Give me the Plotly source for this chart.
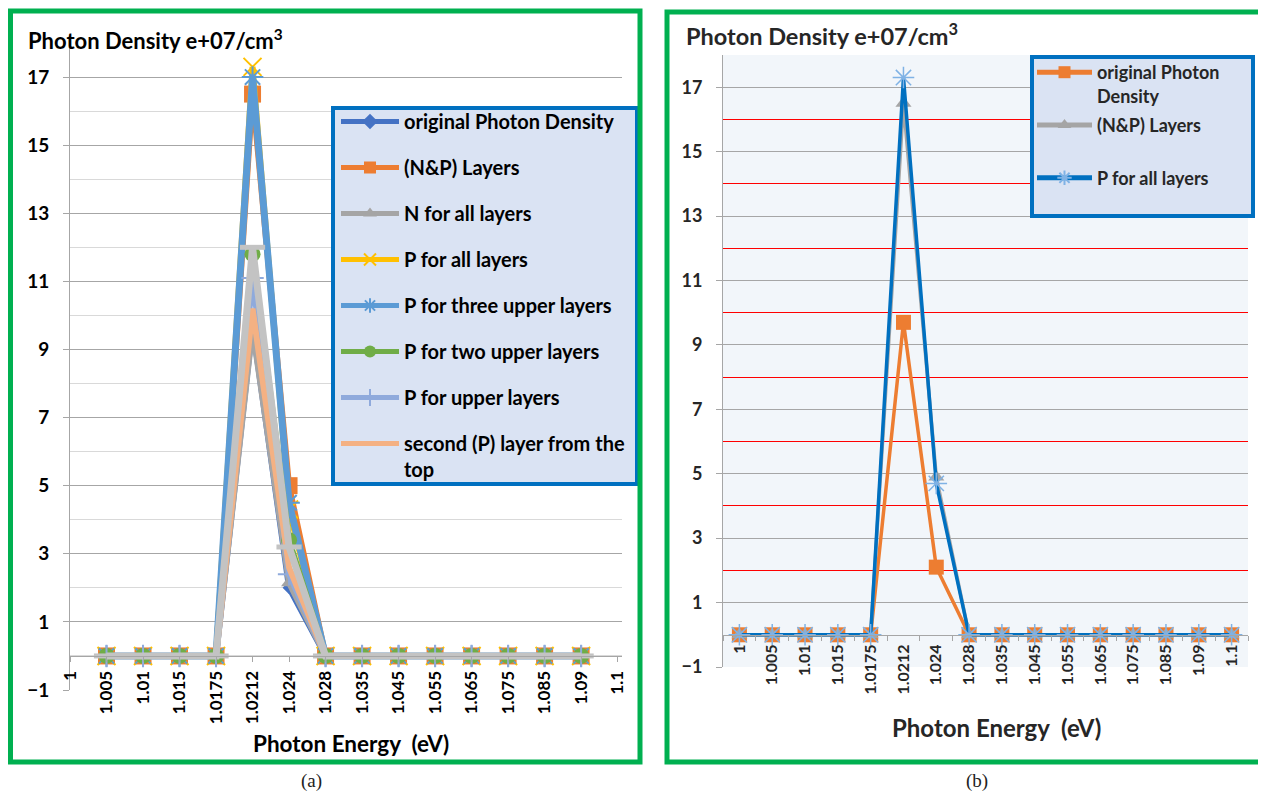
import plotly.graph_objects as go

W, H = 1266, 796
OFF = 8  # the page body margin shifts the figure by this many pixels

# ---------------- data ----------------
energy_labels = ["1", "1.005", "1.01", "1.015", "1.0175", "1.0212", "1.024", "1.028",
                 "1.035", "1.045", "1.055", "1.065", "1.075", "1.085", "1.09", "1.1"]

# panel (a)  (no data at "1" and "1.1")
a_original = [None, 0, 0, 0, 0, 9.7, 2.0, 0, 0, 0, 0, 0, 0, 0, 0, None]
a_np_layers = [None, 0, 0, 0, 0, 16.5, 5.0, 0, 0, 0, 0, 0, 0, 0, 0, None]
a_n_all = [None, 0, 0, 0, 0, 9.6, 2.15, 0, 0, 0, 0, 0, 0, 0, 0, None]
a_p_all = [None, 0, 0, 0, 0, 17.3, 4.3, 0, 0, 0, 0, 0, 0, 0, 0, None]
a_p_three = [None, 0, 0, 0, 0, 17.0, 4.5, 0, 0, 0, 0, 0, 0, 0, 0, None]
a_p_two = [None, 0, 0, 0, 0, 11.8, 3.4, 0, 0, 0, 0, 0, 0, 0, 0, None]
a_p_upper = [None, 0, 0, 0, 0, 11.1, 2.4, 0, 0, 0, 0, 0, 0, 0, 0, None]
a_second_p = [None, 0, 0, 0, 0, 10.2, 2.6, 0, 0, 0, 0, 0, 0, 0, 0, None]
a_extra = [None, 0, 0, 0, 0, 12.0, 3.2, 0, 0, 0, 0, 0, 0, 0, 0, None]

# panel (b)
b_original = [0, 0, 0, 0, 0, 9.7, 2.1, 0, 0, 0, 0, 0, 0, 0, 0, 0]
b_np_layers = [0, 0, 0, 0, 0, 16.5, 4.9, 0, 0, 0, 0, 0, 0, 0, 0, 0]
b_p_all = [0, 0, 0, 0, 0, 17.3, 4.7, 0, 0, 0, 0, 0, 0, 0, 0, 0]

y_major = [-1, 1, 3, 5, 7, 9, 11, 13, 15, 17]
y_minor_a = [0, 2, 4, 6, 8, 10, 12, 14, 16, 18]
y_minor_b = [2, 4, 6, 8, 10, 12, 14, 16, 18]

FONT = "Lato"


def px(x):
    return (x - OFF) / W


def py(y):
    return 1 - (y - OFF) / H


fig = go.Figure()

# ---------------- panel (a) traces ----------------
a_series = [
    ("original Photon Density", a_original, "#4472C4", 6,
     dict(symbol="diamond", size=10, color="#4472C4"), True),
    ("(N&P) Layers", a_np_layers, "#ED7D31", 6,
     dict(symbol="square", size=17, color="#ED7D31"), True),
    ("N for all layers", a_n_all, "#A5A5A5", 6,
     dict(symbol="triangle-up", size=14, color="#A5A5A5"), True),
    ("P for all layers", a_p_all, "#FFC000", 6,
     dict(symbol="x-thin-open", size=18, color="#FFC000", line=dict(color="#FFC000", width=2)), True),
    ("P for three upper layers", a_p_three, "#5B9BD5", 7,
     dict(symbol="asterisk-open", size=18, color="#5B9BD5", line=dict(color="#5B9BD5", width=2)), True),
    ("P for two upper layers", a_p_two, "#70AD47", 6,
     dict(symbol="circle", size=16, color="#70AD47"), True),
    ("P for upper layers", a_p_upper, "#8FAADC", 6,
     dict(symbol="cross-thin-open", size=16, color="#8FAADC", line=dict(color="#8FAADC", width=2)), True),
    ("second (P) layer from the<br>top", a_second_p, "#F4B183", 6, None, True),
    ("series 9", a_extra, "#C3C3C3", 7,
     dict(symbol="line-ew-open", size=18, color="#C3C3C3", line=dict(color="#C3C3C3", width=5)), False),
]

for i, (name, vals, col, lw, mk, show) in enumerate(a_series):
    fig.add_trace(go.Scatter(
        x=energy_labels, y=vals, name=name,
        mode="lines+markers" if mk else "lines",
        line=dict(color=col, width=lw),
        marker=mk if mk else None,
        xaxis="x", yaxis="y", legend="legend", showlegend=show,
        legendgroup="a%d" % i,
    ))

# ---------------- panel (b) traces ----------------
b_series = [
    ("original Photon<br>Density", b_original, "#ED7D31",
     dict(symbol="square", size=15, color="#ED7D31")),
    ("(N&P) Layers<br>\u00a0", b_np_layers, "#A5A5A5",
     dict(symbol="triangle-up", size=14, color="#A5A5A5")),
    ("P for all layers", b_p_all, "#0070C0",
     dict(symbol="asterisk-open", size=18, color="#7FB2E5", line=dict(color="#7FB2E5", width=1.5))),
]
for i, (name, vals, col, mk) in enumerate(b_series):
    fig.add_trace(go.Scatter(
        x=energy_labels, y=vals, name=name, mode="lines+markers",
        line=dict(color=col, width=3.5), marker=mk,
        xaxis="x2", yaxis="y2", legend="legend2", legendgroup="b%d" % i,
    ))

tick_font_a = dict(family=FONT, size=19, color="black", weight="bold")
tick_font_b = dict(family=FONT, size=18, color="#262626", weight="bold")
xtick_font_a = dict(family=FONT, size=17, color="black", weight="bold")
xtick_font_b = dict(family=FONT, size=16, color="#262626", weight="bold")

fig.update_layout(
    template="none",
    width=W, height=H,
    margin=dict(l=0, r=0, t=0, b=0, pad=0, autoexpand=False),
    font=dict(family=FONT, color="black"),
    paper_bgcolor="white", plot_bgcolor="rgba(0,0,0,0)",
    xaxis=dict(
        domain=[px(70), px(622)], type="category",
        categoryorder="array", categoryarray=energy_labels,
        range=[0, 15.12], anchor="free", position=py(656), automargin=False,
        showline=True, linecolor="#A6A6A6", ticks="outside", ticklen=5, tickcolor="#A6A6A6",
        showgrid=False, zeroline=False, tickangle=-90, tickfont=xtick_font_a, ticklabelstandoff=2,
    ),
    yaxis=dict(
        domain=[py(690), py(43)], range=[-1, 18], anchor="x", automargin=False,
        tickvals=y_major, showgrid=True, gridcolor="#A6A6A6", gridwidth=1,
        minor=dict(tickvals=y_minor_a, showgrid=True, gridcolor="#D9D9D9", gridwidth=1, ticks=""),
        showline=True, linecolor="#A6A6A6", ticks="outside", ticklen=6, tickcolor="#A6A6A6",
        zeroline=False, tickfont=tick_font_a, ticklabelstandoff=10,
    ),
    xaxis2=dict(
        domain=[px(723), px(1248)], type="category",
        categoryorder="array", categoryarray=energy_labels,
        range=[-0.5, 15.5], anchor="free", position=py(635), tickson="boundaries",
        automargin=False,
        showline=True, linecolor="#A6A6A6", ticks="outside", ticklen=5, tickcolor="#A6A6A6",
        showgrid=False, zeroline=False, tickangle=-90, tickfont=xtick_font_b, ticklabelstandoff=2,
    ),
    yaxis2=dict(
        domain=[py(667), py(55)], range=[-1, 18], anchor="x2", automargin=False,
        tickvals=y_major, showgrid=True, gridcolor="#A6A6A6", gridwidth=1,
        minor=dict(tickvals=y_minor_b, showgrid=True, gridcolor="#FF0000", gridwidth=1, ticks=""),
        showline=True, linecolor="#A6A6A6", ticks="outside", ticklen=6, tickcolor="#A6A6A6",
        zeroline=False, tickfont=tick_font_b, ticklabelstandoff=10,
    ),
    legend=dict(
        x=px(336), y=py(102), xanchor="left", yanchor="top",
        bgcolor="rgba(0,0,0,0)", borderwidth=0,
        font=dict(family=FONT, size=20, color="black", weight="bold"),
        itemwidth=58, itemsizing="constant", traceorder="grouped",
        tracegroupgap=17, valign="top",
    ),
    legend2=dict(
        x=px(1032), y=py(54), xanchor="left", yanchor="top",
        bgcolor="rgba(0,0,0,0)", borderwidth=0,
        font=dict(family=FONT, size=18, color="#262626", weight="bold"),
        itemwidth=55, itemsizing="constant", traceorder="grouped",
        tracegroupgap=3, valign="top",
    ),
    showlegend=True,
)

shapes = [
    # panel (b) plot background
    dict(type="rect", xref="x2 domain", yref="y2 domain", x0=0, x1=1, y0=0, y1=1,
         fillcolor="#F2F6FA", line=dict(width=0), layer="below"),
    # legend boxes
    dict(type="rect", xref="paper", yref="paper", x0=px(333), x1=px(637), y0=py(484), y1=py(108),
         fillcolor="#DAE3F3", line=dict(color="#0070C0", width=4), layer="above"),
    dict(type="rect", xref="paper", yref="paper", x0=px(1032), x1=px(1253), y0=py(216), y1=py(57),
         fillcolor="#DAE3F3", line=dict(color="#0070C0", width=4), layer="above"),
    # green frames
    dict(type="rect", xref="paper", yref="paper", x0=px(10.5), x1=px(640), y0=py(762), y1=py(11),
         line=dict(color="#00B050", width=5), layer="above"),
    dict(type="rect", xref="paper", yref="paper", x0=px(667), x1=px(1420), y0=py(762), y1=py(12),
         line=dict(color="#00B050", width=5), layer="above"),
]
fig.update_layout(shapes=shapes)

ann = [
    dict(text="Photon Density e+07/cm<sup>3</sup>", x=px(26), y=py(40), xanchor="left", yanchor="middle",
         font=dict(family=FONT, size=22, color="black", weight="bold")),
    dict(text="Photon Density e+07/cm<sup>3</sup>", x=px(684), y=py(35), xanchor="left", yanchor="middle",
         font=dict(family=FONT, size=23.5, color="#262626", weight="bold")),
    dict(text="Photon Energy \u00a0(eV)", x=px(351), y=py(743), xanchor="center", yanchor="middle",
         font=dict(family=FONT, size=22.5, color="black", weight="bold")),
    dict(text="Photon Energy \u00a0(eV)", x=px(996), y=py(727), xanchor="center", yanchor="middle",
         font=dict(family=FONT, size=24, color="#262626", weight="bold")),
    dict(text="(a)", x=px(311), y=py(781), xanchor="center", yanchor="middle",
         font=dict(family="Liberation Serif", size=19, color="#222222")),
    dict(text="(b)", x=px(977), y=py(781), xanchor="center", yanchor="middle",
         font=dict(family="Liberation Serif", size=19, color="#222222")),
]
for a in ann:
    a.update(xref="paper", yref="paper", showarrow=False)
fig.update_layout(annotations=ann)

fig.write_html("out.html")
